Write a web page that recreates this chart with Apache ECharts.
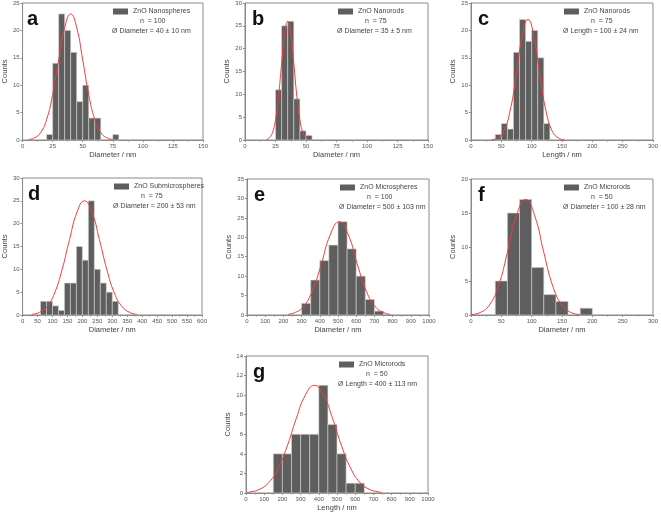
<!DOCTYPE html>
<html>
<head>
<meta charset="utf-8">
<script src="https://cdn.jsdelivr.net/npm/echarts@6/dist/echarts.min.js"></script>
<style>
  html, body { margin: 0; padding: 0; background: #fff; }
  #chart { width: 661px; height: 514px; }
</style>
</head>
<body>
<div id="chart"></div>
<script>
// a - ZnO nanospheres (bin start, counts, gaussian fit)
var aStart = [20, 25, 30, 35, 40, 45, 50, 55, 60, 75];
var aCounts = [1, 14, 23, 20, 16, 7, 10, 4, 4, 1];
var aFitX = [5, 10, 15, 20, 25, 30, 35, 40, 45, 50, 55, 60, 65, 70, 75];
var aFitY = [0.1, 0.4, 1.35, 3.75, 8.3, 14.6, 20.5, 23, 20.5, 14.6, 8.3, 3.75, 1.35, 0.4, 0.1];

// b - ZnO nanorods diameter
var bStart = [25, 30, 35, 40, 45, 50];
var bCounts = [11, 25, 26, 9, 2, 1];
var bFitX = [17.5, 20, 22.5, 25, 27.5, 30, 32.5, 35, 37.5, 40, 42.5, 45, 47.5, 50, 52.5];
var bFitY = [0.1, 0.5, 1.6, 4.4, 9.6, 16.7, 23.3, 26, 23.3, 16.7, 9.6, 4.4, 1.6, 0.5, 0.1];

// c - ZnO nanorods length
var cStart = [40, 50, 60, 70, 80, 90, 100, 110, 120];
var cCounts = [1, 3, 2, 16, 22, 18, 20, 15, 3];
var cFitX = [34, 44, 54, 64, 74, 84, 94, 104, 114, 124, 134, 144, 154];
var cFitY = [0.06, 0.37, 1.6, 5.1, 11.4, 18.7, 22, 18.7, 11.4, 5.1, 1.6, 0.37, 0.06];

// d - ZnO submicrospheres
var dStart = [60, 80, 100, 120, 140, 160, 180, 200, 220, 240, 260, 280, 300];
var dCounts = [3, 3, 2, 1, 7, 7, 15, 12, 25, 10, 7, 5, 3];
var dFitX = [32, 57, 82, 107, 132, 157, 182, 207, 232, 257, 282, 307, 332, 357, 382];
var dFitY = [0.16, 0.6, 1.9, 4.8, 9.9, 16.5, 22.5, 25, 22.5, 16.5, 9.9, 4.8, 1.9, 0.6, 0.16];

// e - ZnO microspheres
var eStart = [300, 350, 400, 450, 500, 550, 600, 650, 700];
var eCounts = [3, 9, 14, 18, 24, 17, 10, 4, 1];
var eFitX = [227, 257, 307, 357, 407, 457, 507, 557, 607, 657, 707, 757, 787];
var eFitY = [0.19, 0.5, 2.0, 6.0, 12.9, 20.6, 24, 20.6, 12.9, 6.0, 2.0, 0.5, 0.19];

// f - ZnO microrods diameter
var fStart = [40, 60, 80, 100, 120, 140, 180];
var fCounts = [5, 15, 17, 7, 3, 2, 1];
var fFitX = [0, 15, 30, 45, 60, 75, 90, 105, 120, 135, 150, 165, 180];
var fFitY = [0.07, 0.36, 1.44, 4.2, 9.2, 14.6, 17, 14.6, 9.2, 4.2, 1.44, 0.36, 0.07];

// g - ZnO microrods length
var gStart = [150, 200, 250, 300, 350, 400, 450, 500, 550, 600];
var gCounts = [4, 4, 6, 6, 6, 11, 7, 4, 1, 1];
var gFitX = [6, 26, 76, 126, 176, 226, 276, 326, 376, 426, 476, 526, 576, 626, 676, 726, 746];
var gFitY = [0.07, 0.12, 0.39, 1.08, 2.49, 4.77, 7.6, 10.0, 11, 10.0, 7.6, 4.77, 2.49, 1.08, 0.39, 0.12, 0.07];

// panel texts and axis ranges, in order a..g
var letters = ['a', 'b', 'c', 'd', 'e', 'f', 'g'];
var sampleNames = ['ZnO Nanospheres', 'ZnO Nanorods', 'ZnO Nanorods', 'ZnO Submicrospheres', 'ZnO Microspheres', 'ZnO Microrods', 'ZnO Microrods'];
var nLabels = ['n  = 100', 'n  = 75', 'n  = 75', 'n  = 75', 'n  = 100', 'n  = 50', 'n  = 50'];
var statLabels = ['Ø Diameter = 40 ± 10 nm', 'Ø Diameter = 35 ± 5 nm', 'Ø Length = 100 ± 24 nm', 'Ø Diameter = 200 ± 53 nm',
  'Ø Diameter = 500 ± 103 nm', 'Ø Diameter = 100 ± 28 nm', 'Ø Length = 400 ± 113 nm'];
var xTitles = ['Diameter / nm', 'Diameter / nm', 'Length / nm', 'Diameter / nm', 'Diameter / nm', 'Diameter / nm', 'Length / nm'];
var binWidths = [5, 5, 10, 20, 50, 20, 50];
var xMaxes = [150, 150, 300, 600, 1000, 300, 1000];
var xSteps = [25, 25, 50, 50, 100, 50, 100];
var yMaxes = [25, 30, 25, 30, 35, 20, 14];
var ySteps = [5, 5, 5, 5, 5, 5, 2];

var starts = [aStart, bStart, cStart, dStart, eStart, fStart, gStart];
var counts = [aCounts, bCounts, cCounts, dCounts, eCounts, fCounts, gCounts];
var fitXs = [aFitX, bFitX, cFitX, dFitX, eFitX, fFitX, gFitX];
var fitYs = [aFitY, bFitY, cFitY, dFitY, eFitY, fFitY, gFitY];

// plot boxes in pixels
var boxes = [
  {left: 20, top: 3, width: 183, height: 137},
  {left: 245, top: 3, width: 183, height: 137},
  {left: 471, top: 3, width: 183, height: 137},
  {left: 21, top: 178, width: 181, height: 137},
  {left: 247, top: 179, width: 182, height: 136},
  {left: 471, top: 179, width: 182, height: 136},
  {left: 246, top: 356, width: 182, height: 137}
];

var FONT = '"Liberation Sans", Arial, sans-serif';
var BAR = '#5e5e5e';
var FIT = '#f03c3c';

function histItem(w) {
  return function (params, api) {
    var x0 = api.value(0);
    var p0 = api.coord([x0, api.value(1)]);
    var p1 = api.coord([x0 + w, 0]);
    return {
      type: 'rect',
      shape: {x: p0[0], y: p0[1], width: p1[0] - p0[0], height: p1[1] - p0[1]},
      style: {fill: BAR, stroke: '#d4d4d4', lineWidth: 0.6}
    };
  };
}

var grids = [], xAxes = [], yAxes = [], series = [], legends = [], graphics = [];

for (var i = 0; i < 7; i++) {
  var b = boxes[i];
  grids.push({left: b.left, top: b.top, width: b.width, height: b.height,
    show: true, borderColor: '#8a8a8a', borderWidth: 1, backgroundColor: 'transparent'});

  xAxes.push({
    type: 'value', gridIndex: i, min: 0, max: xMaxes[i], interval: xSteps[i],
    name: xTitles[i], nameLocation: 'middle', nameGap: 11,
    nameTextStyle: {fontFamily: FONT, fontSize: 7.5, color: '#444'},
    axisLine: {show: true, lineStyle: {color: '#8a8a8a', width: 1}},
    axisTick: {show: true, length: 2, lineStyle: {color: '#8a8a8a'}},
    minorTick: {show: true, splitNumber: 2, length: 1.5, lineStyle: {color: '#8a8a8a'}},
    axisLabel: {fontFamily: FONT, fontSize: 6, color: '#555', margin: 3,
      formatter: function (v) { return String(v); }},
    splitLine: {show: false}
  });

  yAxes.push({
    type: 'value', gridIndex: i, min: 0, max: yMaxes[i], interval: ySteps[i],
    name: 'Counts', nameLocation: 'middle', nameGap: 11, nameRotate: 90,
    nameTextStyle: {fontFamily: FONT, fontSize: 7.5, color: '#444'},
    axisLine: {show: true, lineStyle: {color: '#8a8a8a', width: 1}},
    axisTick: {show: true, length: 2, lineStyle: {color: '#8a8a8a'}},
    axisLabel: {fontFamily: FONT, fontSize: 6, color: '#555', margin: 3},
    splitLine: {show: false}
  });

  var hist = [];
  for (var k = 0; k < starts[i].length; k++) hist.push([starts[i][k], counts[i][k]]);
  series.push({
    name: sampleNames[i], type: 'custom', xAxisIndex: i, yAxisIndex: i,
    renderItem: histItem(binWidths[i]), data: hist, encode: {x: 0, y: 1},
    itemStyle: {color: BAR}, z: 2
  });

  var fit = [];
  for (var k = 0; k < fitXs[i].length; k++) fit.push([fitXs[i][k], fitYs[i][k]]);
  series.push({
    name: 'fit ' + letters[i], type: 'line', xAxisIndex: i, yAxisIndex: i,
    data: fit, smooth: true, showSymbol: false, symbol: 'none',
    lineStyle: {color: FIT, width: 1}, z: 3
  });

  legends.push({
    data: [sampleNames[i]], left: b.left + 93, top: b.top + 5, padding: 0,
    icon: 'rect', itemWidth: 15, itemHeight: 6, selectedMode: false,
    textStyle: {fontFamily: FONT, fontSize: 7, color: '#444'}
  });

  graphics.push({
    type: 'text', left: b.left + 120, top: b.top + 15,
    style: {text: nLabels[i], font: '7px ' + FONT, fill: '#444'}
  });
  graphics.push({
    type: 'text', left: b.left + 92, top: b.top + 24.5,
    style: {text: statLabels[i], font: '7px ' + FONT, fill: '#444'}
  });
  graphics.push({
    type: 'text', left: b.left + 7, top: b.top + 6,
    style: {text: letters[i], font: 'bold 20px ' + FONT, fill: '#111'}
  });
}

var myChart = echarts.init(document.getElementById('chart'));
myChart.setOption({
  backgroundColor: '#fff',
  animation: false,
  grid: grids,
  xAxis: xAxes,
  yAxis: yAxes,
  legend: legends,
  series: series,
  graphic: graphics
});
</script>
</body>
</html>
